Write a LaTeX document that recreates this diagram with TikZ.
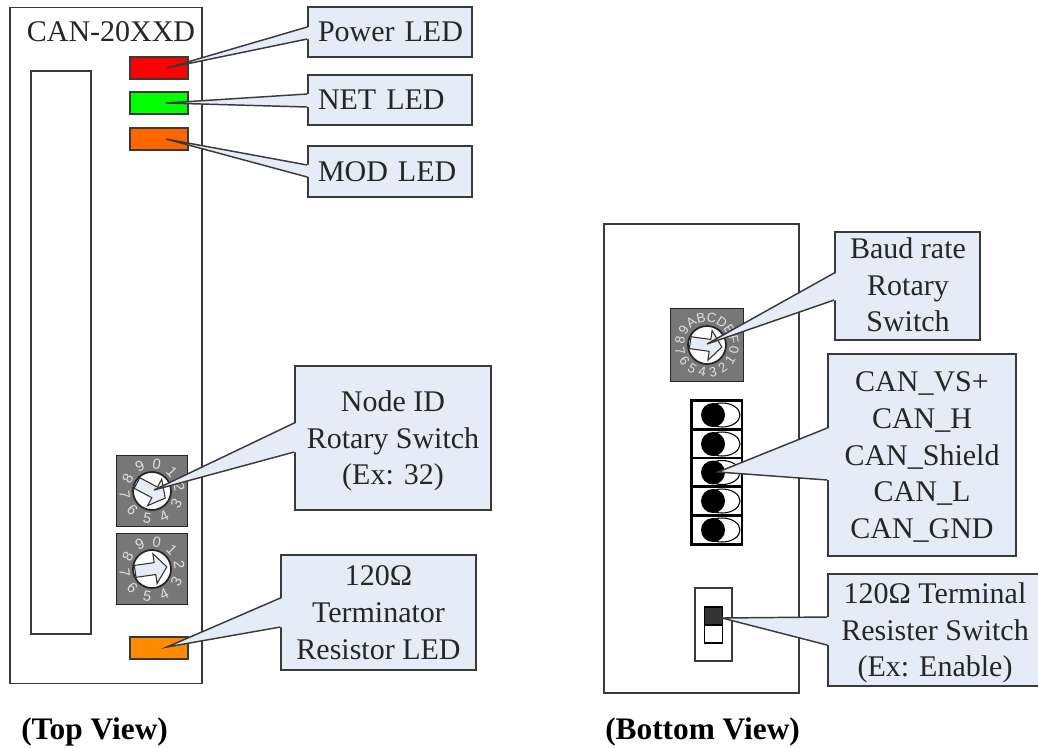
\documentclass[tikz,border=0pt]{standalone}
\usepackage{fontspec}
\setmainfont{Liberation Serif}
\newfontfamily\dialfont{Liberation Sans}
\usetikzlibrary{calc,shapes.geometric}
\definecolor{boxblue}{HTML}{E6ECF7}
\definecolor{edgegray}{HTML}{3A3A3A}
\definecolor{dialgray}{HTML}{777777}
\tikzset{housing/.style={draw=edgegray,line width=1.2pt,fill=white,inner sep=0pt}}
\tikzset{led/.style={draw=edgegray,line width=1pt,inner sep=0pt,minimum width=43.5pt,minimum height=16.5pt}}
\tikzset{label/.style={inner sep=0pt,align=center,text=black!85,font=\fontsize{22.5}{27.5}\selectfont}}
\tikzset{callout/.style={label,draw=edgegray,line width=1.2pt,fill=boxblue}}
\tikzset{shortbox/.style={callout,minimum width=123pt,text width=108pt,align=left}}
\tikzset{pointer/.style={draw=edgegray,line width=1.1pt,line join=miter}}
\tikzset{dial/.style={draw=black!85,line width=1.2pt,fill=dialgray,inner sep=0pt,minimum size=53pt}}
\tikzset{rotor/.style={circle,draw=black!85,line width=1.3pt,fill=white,inner sep=0pt,minimum size=28.5pt}}
\tikzset{digit/.style={text=black!12,inner sep=0pt,font=\dialfont\fontsize{11}{11}\selectfont}}
\tikzset{hexdigit/.style={digit,font=\dialfont\fontsize{10}{10}\selectfont}}
\tikzset{rotorarrow/.style={draw=black!80,line width=.8pt,fill=boxblue}}
\tikzset{cell/.style={draw=black,line width=2pt,fill=white,inner sep=0pt,minimum width=38pt,minimum height=21.6pt}}
\tikzset{hole/.style={circle,fill=black,inner sep=0pt,minimum size=18pt}}
\tikzset{lobe/.style={ellipse,draw=black,line width=.8pt,fill=white,inner sep=0pt,minimum width=27pt,minimum height=18pt}}
\tikzset{caption/.style={inner sep=0pt,anchor=base west,font=\fontsize{23.5}{26}\selectfont\bfseries}}
% digits round a dial: name, centre, list, first angle, step, style
\newcommand{\dialdigits}[6]{
\foreach \d [count=\i from 0] in {#3}{
\pgfmathsetmacro{\ang}{#4-\i*#5}
\pgfmathsetmacro{\turn}{sin(\ang)>=0 ? \ang-90 : \ang+90}
\node (#1\i) at ($(#2)+({-\ang}:27.5)$)[#6,rotate=\turn]{\d};
}}
% arrow on a rotor: centre, angle
\newcommand{\dialarrow}[2]{
\draw[rotorarrow,shift={(#1)},rotate=#2] (-17,-6)--(3,-6)--(3,-15)--(15,0)--(3,15)--(3,6)--(-17,6)--cycle;
}
% wedge from a box to its target: tip, box, upper y, lower y
\newcommand{\wedgeto}[4]{
\fill[boxblue] (#1)--($(#2.west|-0,#3)+(2,0)$)--($(#2.west|-0,#4)+(2,0)$)--cycle;
\draw[pointer] (#2.west|-0,#3)--(#1)--(#2.west|-0,#4);
}
\begin{document}
\begin{tikzpicture}[x=.75pt,y=-.75pt]
\clip (0,0) rectangle (1038,747);
%top view
\node (top) at (106,345.5)[housing,minimum width=144pt,minimum height=507pt]{};
\node (slot) at (61,352.5)[housing,minimum width=45pt,minimum height=422pt]{};
\node (title) at (111,32)[label]{CAN-20XXD};
\node (ledpower) at (159,68)[led,fill=red]{};
\node (lednet) at (159,103)[led,fill=green]{};
\node (ledmod) at (159,139)[led,fill=orange!80!red]{};
\node (ledres) at (159,648)[led,fill=orange!90!yellow]{};
\node (dialup) at (152,491)[dial]{};
\node (rotorup) at (dialup)[rotor]{};
\dialdigits{up}{dialup}{0,1,2,3,4,5,6,7,8,9}{80}{36}{digit}
\dialarrow{dialup}{-28}
\node (dialdown) at (152,569)[dial]{};
\node (rotordown) at (dialdown)[rotor]{};
\dialdigits{down}{dialdown}{0,1,2,3,4,5,6,7,8,9}{80}{36}{digit}
\dialarrow{dialdown}{8}
\node (power) at (390,32)[shortbox,minimum height=37.5pt]{\mbox{Power LED}};
\node (net) at (390,100)[shortbox,minimum height=37.5pt]{\mbox{NET LED}};
\node (mod) at (390,171.5)[shortbox,minimum height=38pt]{\mbox{MOD LED}};
\node (nodeid) at (393,438)[callout,minimum width=147pt,minimum height=108pt]{};
\node (nodeidtext) at (393,441)[label]{Node ID\\Rotary Switch\\(Ex: 32)};
\node (resled) at (378.5,612.5)[callout,minimum width=146pt,minimum height=86pt]{120Ω\\Terminator\\Resistor LED};
\coordinate (tippower) at (167,68);
\coordinate (tipnet) at (166,103);
\coordinate (tipmod) at (166,139);
\coordinate (tipid) at (154,490);
\coordinate (tipres) at (167,647);
\wedgeto{tippower}{power}{27}{39}
\wedgeto{tipnet}{net}{94}{107}
\wedgeto{tipmod}{mod}{165}{177}
\wedgeto{tipid}{nodeid}{423}{452}
\wedgeto{tipres}{resled}{598}{627}
\node (topview) at (21,739)[caption]{(Top View)};
%bottom view
\node (bottom) at (701.5,458.5)[housing,minimum width=146pt,minimum height=352pt]{};
\node (dialhex) at (707,345)[dial,minimum size=55pt]{};
\node (rotorhex) at (dialhex)[rotor]{};
\dialdigits{hex}{dialhex}{0,1,2,3,4,5,6,7,8,9,A,B,C,D,E,F}{-10}{22.5}{hexdigit}
\dialarrow{dialhex}{-8}
\foreach \y [count=\i] in {415,444,472.5,501,530}{
\node (cell\i) at (716.5,\y)[cell]{};
\node (lobe\i) at (722,\y)[lobe]{};
\node (hole\i) at (713,\y)[hole]{};
}
\node (dip) at (713.5,624.5)[housing,minimum width=28pt,minimum height=55pt]{};
\node (dipoff) at (713.5,634)[draw=black,line width=.8pt,fill=white,inner sep=0pt,minimum width=14pt,minimum height=13.5pt]{};
\node (dipon) at (713.5,616)[draw=black,line width=.8pt,fill=black!80,inner sep=0pt,minimum width=14pt,minimum height=13.5pt]{};
\node (baud) at (907.5,286)[callout,minimum width=108.75pt,minimum height=81pt]{};
\node (baudtext) at (908,285)[label]{Baud rate\\Rotary\\Switch};
\node (can) at (922,455)[callout,minimum width=141pt,minimum height=151.5pt]{};
\node (cantext) at (922,457)[label]{CAN\_VS+\\CAN\_H\\CAN\_Shield\\CAN\_L\\CAN\_GND};
\node (term) at (936.5,630)[callout,minimum width=163pt,minimum height=84pt]{};
\node (termtext) at (935,633)[label]{120Ω Terminal\\Resister Switch\\(Ex: Enable)};
\coordinate (tipbaud) at (707,344);
\coordinate (tipcan) at (718,472);
\coordinate (tipterm) at (722,618);
\wedgeto{tipbaud}{baud}{273}{300}
\wedgeto{tipcan}{can}{428}{480}
\wedgeto{tipterm}{term}{617}{645}
\node (bottomview) at (605,739)[caption]{(Bottom View)};
\end{tikzpicture}
\end{document}
